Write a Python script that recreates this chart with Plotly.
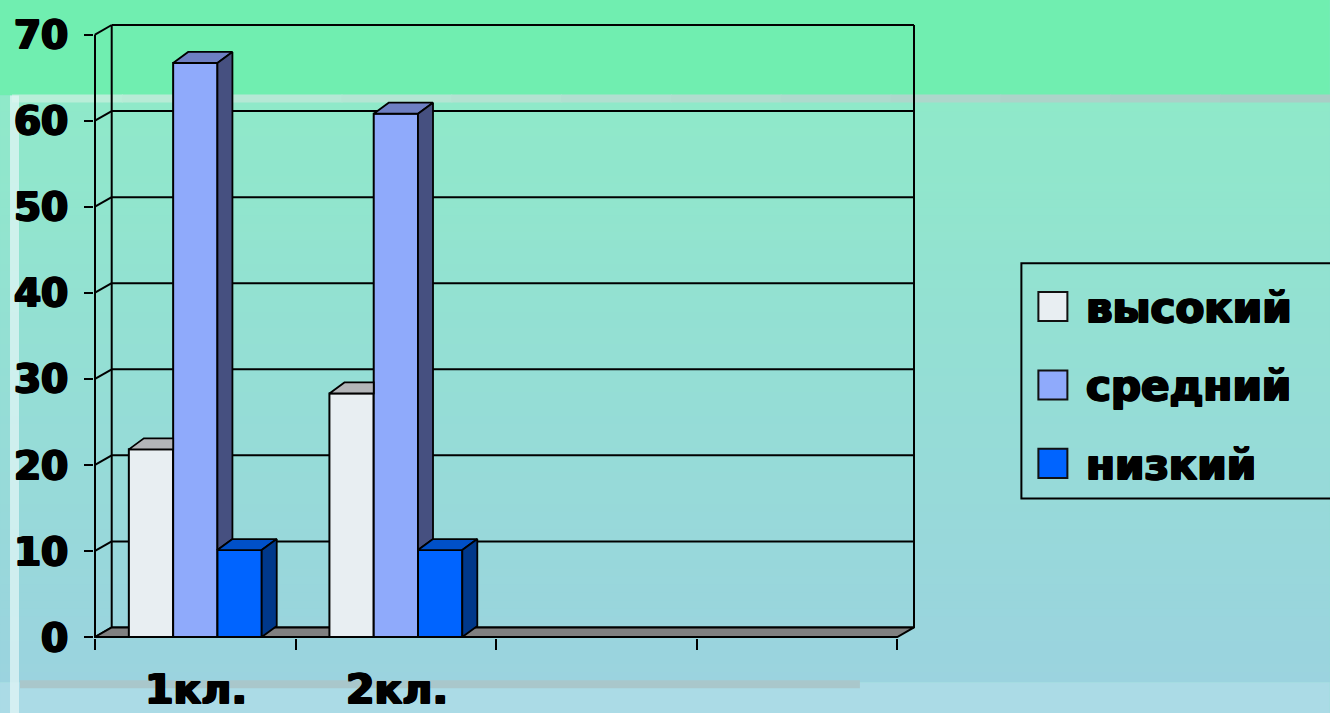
import plotly.graph_objects as go

# ---------------- data ----------------
categories = ["1кл.", "2кл.", "", ""]
series_names = ["высокий", "средний", "низкий"]
vysokiy = [21.8, 28.3, None, None]
sredniy = [66.7, 60.8, None, None]
nizkiy = [10.1, 10.1, None, None]
y_tick_values = [0, 10, 20, 30, 40, 50, 60, 70]

# ---------------- style ----------------
front_colors = ["#E8EEF2", "#8FAAFB", "#0064FF"]
top_colors = ["#B3B5B8", "#6E7FC2", "#0050C8"]
side_colors = ["#9FA3A8", "#465080", "#00388A"]
floor_color = "#808080"
FONT = "DejaVu Sans, Noto Sans, sans-serif"
HEAVY = "1px 0px 0px black, 0px 1px 0px black, 1px 1px 0px black, 2px 0px 0px black, 2px 1px 0px black"

W, H = 1330, 713
ML = 95.0          # front axis x (px)
Y0_PX = 636.7      # value 0 on front (px)
SLOT_PX = 200.6
UNIT_PX = 8.596
N = len(categories)
YMAX = 70
DXW, DYW = 16.7 / SLOT_PX, 9.5 / UNIT_PX     # wall depth
DXB, DYB = 15.0 / SLOT_PX, 11.0 / UNIT_PX    # bar depth
BAR_W = 44.3 / SLOT_PX
PADX, PADY = 1.0 / SLOT_PX, 1.0 / UNIT_PX

x_range = [-PADX, N + DXW + PADX]
y_range = [-PADY, YMAX + DYW + PADY]
PW = (x_range[1] - x_range[0]) * SLOT_PX
PH = (y_range[1] - y_range[0]) * UNIT_PX
ML_eff = ML - PADX * SLOT_PX
MT_eff = Y0_PX + PADY * UNIT_PX - PH
MR = W - ML_eff - PW
MB = H - MT_eff - PH


def paper_x(p):
    return (p - ML_eff) / PW


def paper_y(p):
    return (MT_eff + PH - p) / PH


series = [vysokiy, sredniy, nizkiy]
fig = go.Figure()

# front faces (bars)
for j, (name, vals) in enumerate(zip(series_names, series)):
    xs = [i + 0.5 for i, v in enumerate(vals) if v is not None]
    ys = [v for v in vals if v is not None]
    fig.add_trace(go.Bar(
        x=xs, y=ys, name=name, width=BAR_W, offset=-1.5 * BAR_W + j * BAR_W,
        marker=dict(color=front_colors[j], line=dict(color="black", width=2)),
        showlegend=False, hoverinfo="skip"))


def poly(pts, color):
    xs = [p[0] for p in pts] + [pts[0][0]]
    ys = [p[1] for p in pts] + [pts[0][1]]
    fig.add_trace(go.Scatter(x=xs, y=ys, mode="lines", fill="toself",
                             fillcolor=color, line=dict(color="black", width=1.8),
                             showlegend=False, hoverinfo="skip"))


# visible top and side faces
for i in range(N):
    vals = [s[i] for s in series]
    if any(v is None for v in vals):
        continue
    for j, v in enumerate(vals):
        xl = i + 0.5 - 1.5 * BAR_W + j * BAR_W
        xr = xl + BAR_W
        nxt = vals[j + 1] if j + 1 < len(vals) else 0
        # top face
        if j + 1 < len(vals) and nxt > v:
            poly([(xl, v), (xl + DXB, v + DYB), (xr, v + DYB), (xr, v)], top_colors[j])
        else:
            poly([(xl, v), (xl + DXB, v + DYB), (xr + DXB, v + DYB), (xr, v)], top_colors[j])
        # side face
        if nxt < v:
            poly([(xr, nxt), (xr + DXB, nxt + DYB), (xr + DXB, v + DYB), (xr, v)], side_colors[j])

shapes = []

# ---------- background ----------
def lerp(c1, c2, t):
    a = [int(c1[k:k + 2], 16) for k in (1, 3, 5)]
    b = [int(c2[k:k + 2], 16) for k in (1, 3, 5)]
    return "#%02x%02x%02x" % tuple(round(a[m] + (b[m] - a[m]) * t) for m in range(3))


def bg_rect(x0, y0, x1, y1, color):
    shapes.append(dict(type="rect", xref="paper", yref="paper", layer="below",
                       x0=paper_x(x0), x1=paper_x(x1), y0=paper_y(y0), y1=paper_y(y1),
                       fillcolor=color, line=dict(width=0)))


bg_rect(0, 0, W, 96, "#70EEB0")
stops = [(96, "#8FE9C9"), (400, "#95DDD6"), (682, "#9BD3DF")]
step = 8
y = 96
while y < 682:
    for (ya, ca), (yb, cb) in zip(stops[:-1], stops[1:]):
        if ya <= y < yb:
            col = lerp(ca, cb, (y - ya) / (yb - ya))
    bg_rect(0, y, W, min(y + step + 1, 682), col)
    y += step
bg_rect(0, 682, W, H, "#ABDBE6")
# soft bands
for k in range(12):
    x0 = 12 + k * (W - 12) / 12
    bg_rect(x0, 95, x0 + (W - 12) / 12 + 1, 103, lerp("#B8EED8", "#A9CEC6", k / 11))
bg_rect(20, 680, 860, 688, "#A9C7CB")
bg_rect(10, 96, 19, H, "rgba(225,245,245,0.75)")

# ---------- walls / floor ----------
def line(x0, y0, x1, y1, w=2):
    shapes.append(dict(type="line", xref="x", yref="y", layer="below",
                       x0=x0, y0=y0, x1=x1, y1=y1, line=dict(color="black", width=w)))


for v in y_tick_values:
    line(DXW, v + DYW, N + DXW, v + DYW)
    line(0, v, DXW, v + DYW)
line(DXW, DYW, DXW, YMAX + DYW)
line(N + DXW, DYW, N + DXW, YMAX + DYW)
line(0, 0, 0, YMAX)
shapes.append(dict(type="path", xref="x", yref="y", layer="below",
                   path=f"M 0,0 L {N},0 L {N + DXW},{DYW} L {DXW},{DYW} Z",
                   fillcolor=floor_color, line=dict(color="black", width=2)))

# ---------- legend (manual) ----------
LEG_Y = [306.7, 385.0, 463.3]
shapes.append(dict(type="rect", xref="paper", yref="paper",
                   x0=paper_x(1021.5), x1=paper_x(1345), y0=paper_y(263.5), y1=paper_y(498.5),
                   line=dict(color="black", width=2), fillcolor="rgba(0,0,0,0)"))
annotations = []
for k, name in enumerate(series_names):
    shapes.append(dict(type="rect", xref="paper", yref="paper",
                       x0=paper_x(1038.5), x1=paper_x(1067.5),
                       y0=paper_y(LEG_Y[k] - 14.5), y1=paper_y(LEG_Y[k] + 14.5),
                       fillcolor=front_colors[k], line=dict(color="#111111", width=2)))
    annotations.append(dict(xref="paper", yref="paper", x=paper_x(1083), y=paper_y(LEG_Y[k] + 1),
                            xanchor="left", yanchor="middle", showarrow=False, text=name,
                            font=dict(family=FONT, size=42, color="black", weight="bold",
                                      shadow=HEAVY)))

# category labels
for i, c in enumerate(categories):
    if c:
        annotations.append(dict(xref="x", yref="paper", x=i + 0.5, y=paper_y(689),
                                xanchor="center", yanchor="middle", showarrow=False, text=c,
                                font=dict(family=FONT, size=41, color="black", weight="bold",
                                          shadow=HEAVY)))

fig.update_layout(
    width=W, height=H,
    margin=dict(l=ML_eff, r=MR, t=MT_eff, b=MB, autoexpand=False),
    paper_bgcolor="#92E0D2", plot_bgcolor="rgba(0,0,0,0)",
    barmode="overlay",
    shapes=shapes, annotations=annotations,
    showlegend=False,
    xaxis=dict(range=x_range, tickvals=list(range(N + 1)), ticks="outside", ticklen=11,
               tickwidth=2, tickcolor="black", showticklabels=False, showgrid=False,
               zeroline=False, showline=False, fixedrange=True),
    yaxis=dict(range=y_range, tickvals=y_tick_values, ticks="outside", ticklen=9,
               tickwidth=2, tickcolor="black", showgrid=False, zeroline=False,
               showline=False, ticklabelstandoff=9,
               tickfont=dict(family=FONT, size=39, color="black", weight="bold",
                             shadow=HEAVY),
               fixedrange=True),
)

fig.write_html("out.html", config={"displayModeBar": False},
               post_script="document.body.style.margin='0';document.body.style.overflow='hidden';")
